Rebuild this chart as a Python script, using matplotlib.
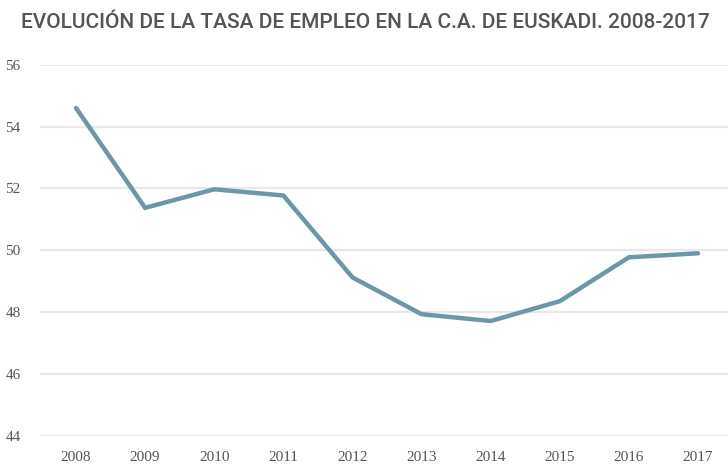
import matplotlib
matplotlib.use("Agg")
import matplotlib.pyplot as plt
from matplotlib import font_manager

years = [2008, 2009, 2010, 2011, 2012, 2013, 2014, 2015, 2016, 2017]
tasa_empleo = [54.6, 51.37, 51.97, 51.77, 49.12, 47.93, 47.71, 48.35, 49.77, 49.9]
y_ticks = [44, 46, 48, 50, 52, 54, 56]
title = "EVOLUCIÓN DE LA TASA DE EMPLEO EN LA C.A. DE EUSKADI. 2008-2017"

names = {f.name for f in font_manager.fontManager.ttflist}
title_font = "Roboto" if "Roboto" in names else "DejaVu Sans"

fig = plt.figure(figsize=(7.28, 4.69), dpi=100)
ax = fig.add_axes([40/728, 1-435.7/469, 1-40/728, (435.7-64.7)/469])

ax.plot(years, tasa_empleo, color="#6b97a8", lw=3.2, solid_capstyle="round", solid_joinstyle="miter", zorder=3)
ax.set_xlim(2008 - 36/69.1, 2017 + 30/69.1)
ax.set_ylim(44, 56)
ax.set_yticks(y_ticks)
ax.set_xticks(years)
ax.set_xticklabels([str(y) for y in years])
ax.grid(axis="y", color="#e9e9e9", lw=1.6)
ax.set_axisbelow(True)
for s in ax.spines.values():
    s.set_visible(False)
ax.tick_params(axis="both", length=0, labelsize=11, labelcolor="#555555")
ax.tick_params(axis="y", pad=14)
ax.tick_params(axis="x", pad=11)
for lab in ax.get_xticklabels() + ax.get_yticklabels():
    lab.set_fontfamily("Liberation Serif")

t = fig.text(365/728, 1-22/469, title, ha="center", va="center", fontsize=16,
             color="#555555", family=title_font, fontweight="medium")
fig.canvas.draw()
w = t.get_window_extent().width
t.set_fontsize(16 * 688 / w)

fig.savefig("out.png", dpi=100)
